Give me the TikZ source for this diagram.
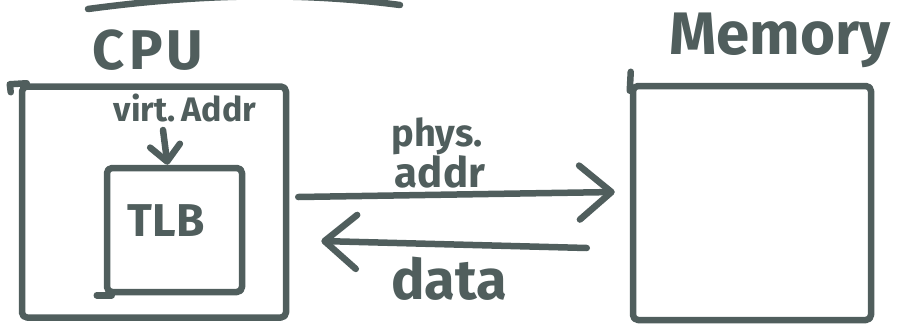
\documentclass[tikz,border=0pt]{standalone}
\usepackage{fontspec}
\setmainfont{Fira Sans}
\usetikzlibrary{arrows.meta}
\definecolor{ink}{RGB}{80,94,93}
\tikzset{
  pen/.style={draw=ink, line width=6.5pt, line cap=round, line join=round},
  box/.style={pen, rectangle, rounded corners=5pt, inner sep=0pt},
  label/.style={text=ink, inner sep=0pt, font=\bfseries},
  flow/.style={pen, -{Straight Barb[length=32pt, width=54pt, round]}},
}
\begin{document}
\begin{tikzpicture}[x=1pt, y=-1pt]
  \useasboundingbox (0,0) rectangle (898,330);

  % stray stroke along the top edge
  \draw[pen] (88,9) .. controls (200,-6) and (300,-8) .. (400,5);

  % boxes
  \node[box, minimum width=264pt, minimum height=231pt] (cpu) at (154,202) {};
  \node[box, minimum width=135pt, minimum height=124pt] (tlb) at (174.5,230) {};
  \node[box, minimum width=238pt, minimum height=234pt] (mem) at (752,203) {};

  % overshooting pen strokes at the box corners
  \draw[pen] ([xshift=8pt]cpu.north west) -- ++(-17,1) -- ++(1,8);
  \draw[pen] ([yshift=-8pt]mem.north west) -- ++(1,-19);
  \draw[pen] ([xshift=8pt]tlb.south west) -- ++(-15,0);

  % labels
  \node[label, font=\bfseries\fontsize{56}{56}\selectfont] (cpulbl) at (148,50) {C\kern4pt P\kern4pt U};
  \node[label, font=\bfseries\fontsize{60}{60}\selectfont] (memlbl) at (780,40) {Memory};
  \node[label, font=\bfseries\fontsize{34}{34}\selectfont] (virt) at (185,108) {virt.\,Addr};
  \node[label, font=\bfseries\fontsize{46}{46}\selectfont] (tlblbl) at (166,221) {TLB};
  \node[label, font=\bfseries\fontsize{38}{38}\selectfont] (phys) at (437,136) {phys.};
  \node[label, font=\bfseries\fontsize{42}{42}\selectfont] (addr) at (440,172) {addr};
  \node[label, font=\bfseries\fontsize{56}{56}\selectfont] (data) at (449,279) {data};

  % connectors
  \coordinate (vstart) at (163,130);
  \draw[flow, -{Straight Barb[length=16pt, width=30pt, round]}] (vstart) -- ([xshift=-7pt]tlb.north);
  \draw[flow] ([xshift=9pt, yshift=5pt]cpu.east) -- ([xshift=-15pt, yshift=11pt]mem.west);
  \draw[flow] ([xshift=-43pt, yshift=-45pt]mem.west) -- ([xshift=32pt, yshift=-39pt]cpu.east);
\end{tikzpicture}
\end{document}
